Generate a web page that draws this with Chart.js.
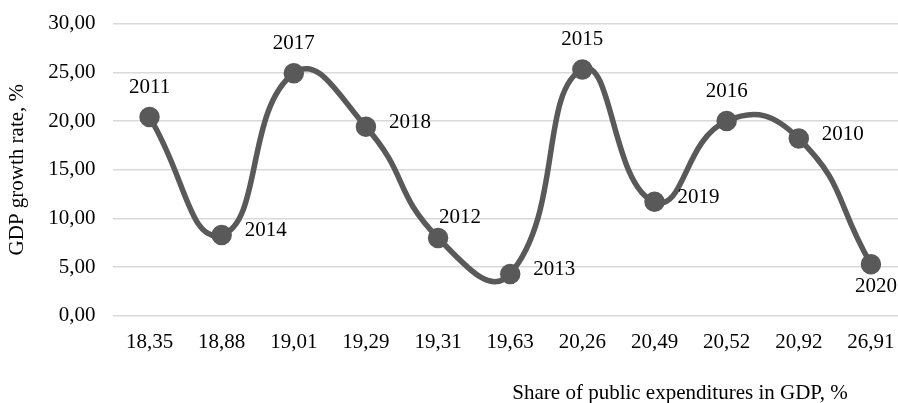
<!DOCTYPE html>
<html>
<head>
<meta charset="utf-8">
<script src="https://cdn.jsdelivr.net/npm/chart.js@4"></script>
<style>
  html, body { margin: 0; padding: 0; background: #fff; overflow: hidden; }
  #chart { display: block; margin-top: -7px; }
</style>
</head>
<body>
<canvas id="chart" width="920" height="410"></canvas>
<script>
// share of public expenditures in GDP, % (x categories)
const shares = ["18,35", "18,88", "19,01", "19,29", "19,31", "19,63", "20,26", "20,49", "20,52", "20,92", "26,91"];
// GDP growth rate, %
const growth = [20.4, 8.3, 24.9, 19.4, 8.0, 4.3, 25.3, 11.7, 20.0, 18.2, 5.3];
// year of each point
const years = ["2011", "2014", "2017", "2018", "2012", "2013", "2015", "2019", "2016", "2010", "2020"];
// where each year label sits relative to its point
const labelPos = ["top", "right", "top", "right", "topright", "right", "top", "right", "top", "right", "bottom"];

const FONT = "'Liberation Serif', 'Times New Roman', serif";
const FS = 21;
const GREY = "#595959";

const yearLabels = {
    id: "yearLabels",
    afterDatasetsDraw(chart) {
        const ctx = chart.ctx;
        const meta = chart.getDatasetMeta(0);
        ctx.save();
        ctx.font = FS + "px " + FONT;
        ctx.fillStyle = "#000";
        ctx.textBaseline = "middle";
        meta.data.forEach((pt, i) => {
            let x = pt.x, y = pt.y;
            ctx.textAlign = "center";
            if (labelPos[i] === "top") { y -= 30; }
            else if (labelPos[i] === "bottom") { x += 5; y += 22; }
            else if (labelPos[i] === "topright") { x += 22; y -= 20; }
            else if (labelPos[i] === "right") { ctx.textAlign = "left"; x += 23; y -= 4; }
            ctx.fillText(years[i], x, y);
        });
        ctx.restore();
    }
};

const xTitle = {
    id: "xTitle",
    afterDraw(chart) {
        const ctx = chart.ctx;
        ctx.save();
        ctx.font = FS + "px " + FONT;
        ctx.fillStyle = "#000";
        ctx.textAlign = "center";
        ctx.textBaseline = "middle";
        ctx.fillText("Share of public expenditures in GDP, %", chart.chartArea.right - 227, 400);
        ctx.restore();
    }
};

new Chart(document.getElementById("chart"), {
    type: "line",
    data: {
        labels: shares,
        datasets: [{
            data: growth,
            borderColor: GREY,
            backgroundColor: GREY,
            borderWidth: 5.5,
            tension: 0.5,
            pointRadius: 7.5,
            pointHoverRadius: 7.5,
            pointBackgroundColor: GREY,
            pointBorderColor: GREY,
            clip: false
        }]
    },
    options: {
        responsive: false,
        animation: false,
        events: [],
        layout: { padding: { top: 0, bottom: 42, left: 0, right: 0 } },
        plugins: { legend: { display: false }, tooltip: { enabled: false } },
        scales: {
            x: {
                offset: true,
                grid: { display: false },
                border: { display: false },
                ticks: { color: "#000", font: { family: FONT, size: FS }, padding: 6, maxRotation: 0, autoSkip: false }
            },
            y: {
                min: 0,
                max: 30,
                grid: { color: "#d9d9d9", lineWidth: 1.5, drawTicks: false },
                border: { display: false },
                ticks: {
                    stepSize: 5,
                    color: "#000",
                    font: { family: FONT, size: FS },
                    padding: 18,
                    callback: v => v.toFixed(2).replace(".", ",")
                },
                title: {
                    display: true,
                    text: "GDP growth rate, %",
                    color: "#000",
                    font: { family: FONT, size: FS },
                    padding: { top: 5, bottom: 0 }
                }
            }
        }
    },
    plugins: [yearLabels, xTitle]
});
</script>
</body>
</html>
